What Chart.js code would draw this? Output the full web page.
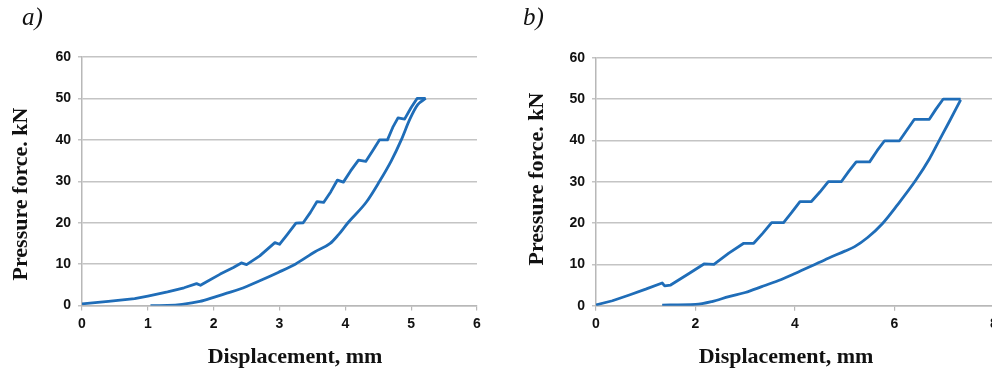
<!DOCTYPE html>
<html>
<head>
<meta charset="utf-8">
<script src="https://cdn.jsdelivr.net/npm/chart.js@4/dist/chart.umd.min.js"></script>
<style>
  html, body { margin: 0; padding: 0; background: #fff; }
  #wrap { position: relative; width: 992px; height: 372px; overflow: hidden; background: #fff; }
  .cv { position: absolute; top: 0; }
  .lbl { position: absolute; font-family: "Liberation Serif", "DejaVu Serif", serif; white-space: nowrap; color: #111; }
  .panel { font-style: italic; font-size: 25px; }
  .ttl { font-weight: bold; font-size: 22px; transform: translate(-50%, -50%); }
  .ttl.rot { transform: translate(-50%, -50%) rotate(-90deg); }
</style>
</head>
<body>
<div id="wrap">
  <div class="cv" style="left:0;width:496px;height:372px;"><canvas id="ca" width="496" height="372"></canvas></div>
  <div class="cv" style="left:496px;width:520px;height:372px;"><canvas id="cb" width="520" height="372"></canvas></div>
  <div class="lbl panel" style="left:22px;top:3px;">a)</div>
  <div class="lbl panel" style="left:523px;top:3px;">b)</div>
  <div class="lbl ttl" style="left:295px;top:356px;">Displacement, mm</div>
  <div class="lbl ttl rot" style="left:20px;top:194px;">Pressure force. kN</div>
  <div class="lbl ttl" style="left:786px;top:356px;">Displacement, mm</div>
  <div class="lbl ttl rot" style="left:536px;top:179px;">Pressure force. kN</div>
</div>
<script>
// Panel a) loading branch (upper, stepped) and unloading branch (lower, smooth)
const aLoadX = [0, 0.4, 0.8, 1.0, 1.3, 1.55, 1.74, 1.8, 1.9, 2.1, 2.3, 2.42, 2.5, 2.7, 2.93, 3.0, 3.12, 3.25, 3.36, 3.47, 3.57, 3.67, 3.78, 3.88, 3.97, 4.08, 4.2, 4.31, 4.42, 4.52, 4.64, 4.72, 4.8, 4.9, 5.0, 5.09, 5.22];
const aLoadY = [0.4, 1.0, 1.7, 2.3, 3.3, 4.3, 5.3, 4.9, 5.8, 7.6, 9.2, 10.3, 9.9, 12.0, 15.2, 14.8, 17.2, 19.9, 20.0, 22.5, 25.1, 24.9, 27.5, 30.3, 29.8, 32.5, 35.1, 34.8, 37.5, 40.0, 40.0, 43.0, 45.3, 45.0, 47.8, 50.0, 50.0];
const aUnloadX = [1.04, 1.3, 1.52, 1.79, 2.0, 2.2, 2.40, 2.70, 2.98, 3.24, 3.54, 3.77, 3.89, 4.04, 4.32, 4.52, 4.70, 4.85, 4.98, 5.1, 5.22];
const aUnloadY = [0.0, 0.05, 0.3, 1.0, 2.0, 3.0, 4.0, 6.0, 8.0, 10.0, 13.0, 15.0, 17.0, 20.0, 25.0, 30.0, 35.0, 40.0, 45.0, 48.5, 50.0];
// Panel b) loading branch (upper, stepped) and unloading branch (lower, smooth)
const bLoadX = [0, 0.33, 0.67, 1.0, 1.33, 1.38, 1.5, 1.87, 2.17, 2.37, 2.67, 2.97, 3.17, 3.35, 3.53, 3.77, 3.93, 4.1, 4.33, 4.5, 4.67, 4.93, 5.08, 5.23, 5.5, 5.65, 5.8, 6.1, 6.25, 6.4, 6.7, 6.83, 6.98, 7.33];
const bLoadY = [0.2, 1.2, 2.6, 4.0, 5.5, 4.8, 5.0, 7.8, 10.1, 10.0, 12.7, 15.1, 15.1, 17.5, 20.1, 20.1, 22.5, 25.2, 25.2, 27.5, 30.0, 30.0, 32.5, 34.8, 34.8, 37.5, 39.9, 39.9, 42.5, 45.1, 45.1, 47.5, 50.0, 50.0];
const bUnloadX = [1.33, 2.0, 2.33, 2.67, 3.0, 3.33, 3.67, 4.0, 4.33, 4.67, 5.0, 5.2, 5.46, 5.76, 6.06, 6.43, 6.7, 6.9, 7.1, 7.33];
const bUnloadY = [0.15, 0.3, 1.0, 2.2, 3.2, 4.6, 6.1, 7.8, 9.6, 11.5, 13.2, 14.3, 16.5, 19.9, 24.4, 30.4, 35.5, 40.0, 44.5, 49.8];
const yTicks = [0, 10, 20, 30, 40, 50, 60];
const aXTicks = [0, 1, 2, 3, 4, 5, 6];
const bXTicks = [0, 2, 4, 6, 8];

const lineColor = '#1f6db8';

function pts(xs, ys) { return xs.map((x, i) => ({ x: x, y: ys[i] })); }

function makeChart(id, loadX, loadY, unX, unY, xTicks, pad, yW, xH) {
  const tickFont = { family: '"Liberation Sans", Arial, sans-serif', size: 14, weight: 'bold' };
  return new Chart(document.getElementById(id), {
    type: 'scatter',
    data: {
      datasets: [
        { data: pts(loadX, loadY), showLine: true, borderColor: lineColor, borderWidth: 2.8, pointRadius: 0, tension: 0, fill: false, borderJoinStyle: 'round' },
        { data: pts(unX, unY), showLine: true, borderColor: lineColor, borderWidth: 2.8, pointRadius: 0, cubicInterpolationMode: 'monotone', fill: false }
      ]
    },
    options: {
      responsive: false,
      animation: false,
      devicePixelRatio: 1,
      layout: { padding: pad },
      plugins: { legend: { display: false }, tooltip: { enabled: false } },
      scales: {
        x: {
          type: 'linear', min: xTicks[0], max: xTicks[xTicks.length - 1],
          afterBuildTicks: s => { s.ticks = xTicks.map(v => ({ value: v })); },
          afterFit: s => { s.height = xH; },
          grid: { drawOnChartArea: false, drawTicks: true, tickLength: 5, color: '#b8b8b8', lineWidth: 1.2 },
          border: { display: true, color: '#b8b8b8', width: 1.5 },
          ticks: { color: '#111', font: tickFont, padding: 5, maxRotation: 0 }
        },
        y: {
          type: 'linear', min: 0, max: 60,
          afterBuildTicks: s => { s.ticks = yTicks.map(v => ({ value: v })); },
          afterFit: s => { s.width = yW; },
          grid: { drawOnChartArea: true, drawTicks: true, tickLength: 4, color: '#c4c4c4', lineWidth: 1.5 },
          border: { display: true, color: '#b8b8b8', width: 1.5 },
          ticks: { color: '#111', font: tickFont, padding: 7 }
        }
      }
    }
  });
}

makeChart('ca', aLoadX, aLoadY, aUnloadX, aUnloadY, aXTicks, { left: 0, right: 19, top: 57, bottom: 0 }, 82, 66.4);
makeChart('cb', bLoadX, bLoadY, bUnloadX, bUnloadY, bXTicks, { left: 0, right: 22, top: 57.7, bottom: 0 }, 100, 66.3);
</script>
</body>
</html>
